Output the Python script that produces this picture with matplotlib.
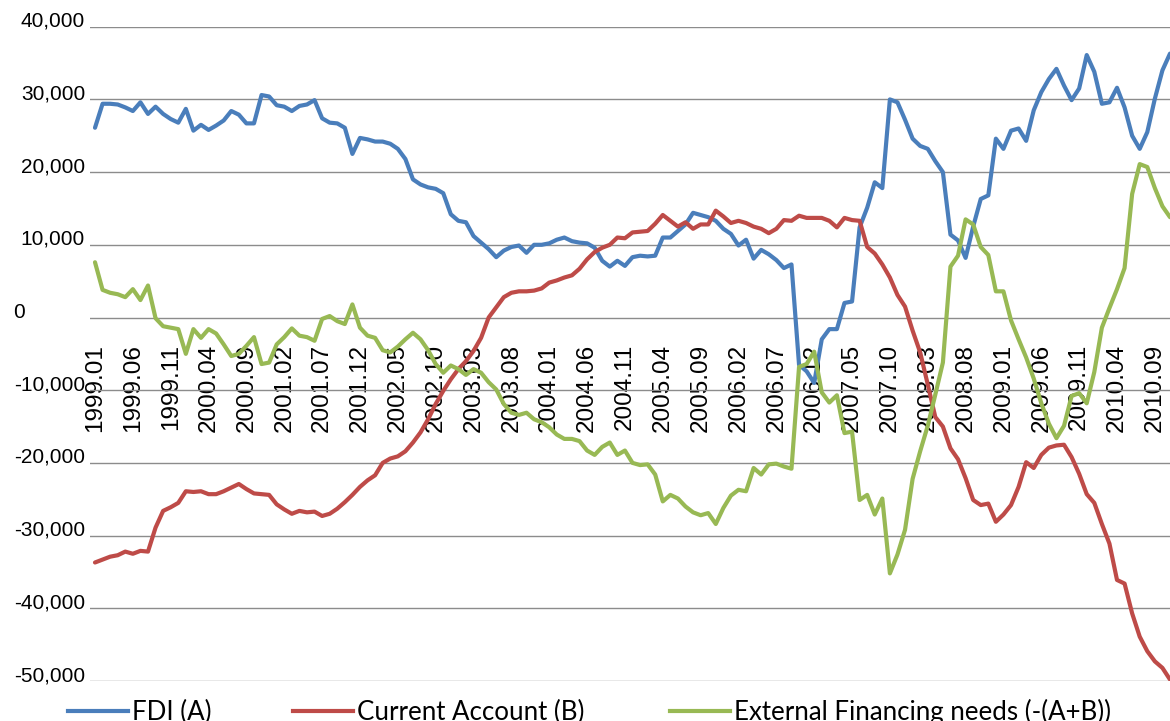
import matplotlib
matplotlib.use('Agg')
import matplotlib.pyplot as plt
from matplotlib.lines import Line2D
from matplotlib.ticker import FuncFormatter
import numpy as np

# ==================== 字体设置 ====================
plt.rcParams['font.family'] = ['Liberation Sans', 'DejaVu Sans']
plt.rcParams['axes.unicode_minus'] = False

# ==================== 数据 (1999.01 - 2010.11, monthly) ====================
months = [f'{y}.{m:02d}' for y in range(1999, 2011) for m in range(1, 13)][:143]

fdi = [26100, 29400, 29400, 29300, 28900, 28400, 29600, 28000, 29000, 28000,
       27300, 26800, 28700, 25700, 26500, 25800, 26400, 27100, 28400, 27900,
       26700, 26700, 30600, 30400, 29200, 29000, 28400, 29100, 29300, 29900,
       27400, 26800, 26700, 26100, 22500, 24700, 24500, 24200, 24200, 23900,
       23200, 21800, 19000, 18300, 17900, 17700, 17100, 14200, 13300, 13100,
       11200, 10300, 9400, 8300, 9200, 9700, 9900, 8900, 10000, 10000,
       10200, 10700, 11000, 10500, 10300, 10200, 9600, 7800, 7000, 7800,
       7100, 8300, 8500, 8400, 8500, 11000, 11000, 11900, 12800, 14400,
       14100, 13800, 13300, 12200, 11500, 9900, 10700, 8100, 9300, 8700,
       7900, 6800, 7300, -6500, -7400, -9000, -3000, -1600, -1600, 2000,
       2200, 12400, 15100, 18600, 17800, 30000, 29600, 27200, 24600, 23600,
       23200, 21500, 20000, 11400, 10600, 8200, 12500, 16300, 16800, 24600,
       23200, 25700, 26000, 24300, 28500, 31000, 32800, 34200, 31900, 29900,
       31500, 36100, 33800, 29400, 29600, 31600, 28900, 25000, 23200, 25500,
       30100, 34000, 36300]

current_account = [-33700, -33300, -32900, -32700, -32200, -32500, -32100, -32200, -28900, -26600,
                   -26100, -25500, -23900, -24000, -23900, -24300, -24300, -23900, -23400, -22900,
                   -23600, -24200, -24300, -24400, -25700, -26400, -27000, -26600, -26800, -26700,
                   -27300, -27000, -26300, -25400, -24400, -23300, -22400, -21700, -20000, -19400,
                   -19100, -18400, -17200, -15800, -14000, -11900, -10100, -8500, -7100, -6000,
                   -4600, -2800, 0, 1400, 2800, 3400, 3600, 3600, 3700, 4000,
                   4800, 5100, 5500, 5800, 6700, 8000, 9000, 9600, 10000, 11000,
                   10900, 11700, 11800, 11900, 12900, 14100, 13300, 12500, 13100, 12200,
                   12800, 12800, 14700, 13900, 13000, 13300, 13000, 12500, 12200, 11600,
                   12200, 13400, 13300, 14000, 13700, 13700, 13700, 13300, 12400, 13700,
                   13400, 13300, 9700, 8800, 7300, 5500, 3100, 1500, -1800, -4800,
                   -9200, -13700, -15000, -18000, -19500, -22100, -25100, -25800, -25600, -28100,
                   -27100, -25800, -23300, -19900, -20700, -18900, -17900, -17600, -17500, -19200,
                   -21500, -24300, -25500, -28400, -31100, -36100, -36600, -40700, -43900, -45900,
                   -47300, -48200, -49800]

ext_financing = [7600, 3800, 3400, 3200, 2800, 3900, 2400, 4400, -100, -1200,
                 -1400, -1600, -5000, -1600, -2800, -1600, -2200, -3700, -5300, -5000,
                 -3900, -2700, -6400, -6200, -3700, -2700, -1500, -2500, -2700, -3200,
                 -200, 200, -500, -900, 1800, -1400, -2500, -2800, -4500, -4800,
                 -4000, -3000, -2100, -3000, -4500, -6400, -7600, -6600, -7100, -7900,
                 -7100, -7600, -8900, -9900, -11900, -13100, -13400, -13100, -14000, -14400,
                 -15100, -16100, -16700, -16700, -17000, -18300, -18900, -17800, -17200, -18900,
                 -18300, -20000, -20300, -20200, -21600, -25300, -24400, -24900, -26000, -26800,
                 -27200, -26900, -28400, -26200, -24500, -23700, -23900, -20700, -21600, -20200,
                 -20100, -20500, -20800, -6800, -6400, -4700, -10300, -11700, -10700, -15900,
                 -15700, -25100, -24400, -27100, -24900, -35200, -32600, -29200, -22200, -18400,
                 -14900, -10600, -6200, 7000, 8500, 13500, 12800, 9700, 8600, 3600,
                 3600, -400, -3000, -5500, -8400, -11800, -14600, -16600, -14900, -10800,
                 -10400, -11800, -7500, -1400, 1300, 3900, 6800, 17000, 21100, 20700,
                 17800, 15300, 13800]

series_names = ['FDI (A)', 'Current Account (B)', 'External Financing needs (-(A+B))']
series_colors = ['#4A7EBB', '#BE4B48', '#98B954']

x = np.arange(len(months))

# ==================== 绘图 ====================
fig = plt.figure(figsize=(11.7, 7.21), dpi=100)
ax = fig.add_axes([90 / 1170, 40 / 721, 1080 / 1170, 654.3 / 721])

for vals, name, col in zip([fdi, current_account, ext_financing], series_names, series_colors):
    ax.plot(x, vals, color=col, lw=3, solid_joinstyle='round', solid_capstyle='round',
            label=name, zorder=3)

ax.set_xlim(-0.66, 142.0)
ax.set_ylim(-50000, 40000)
ax.set_yticks(range(-50000, 40001, 10000))
ax.yaxis.set_major_formatter(FuncFormatter(lambda v, p: f'{v:,.0f}'))
ax.grid(axis='y', color='#8c8c8c', lw=1)
ax.set_xticks(x[::5])
ax.tick_params(axis='x', length=0, labelbottom=False)
ax.tick_params(axis='y', length=0)

for s in ax.spines.values():
    s.set_visible(False)

# x 轴标签挂在 0 线下方（竖排）
for i in x[::5]:
    ax.annotate(months[i], xy=(i, 0), xycoords='data', xytext=(0, -19),
                textcoords='offset points', rotation=90, ha='center', va='top',
                fontsize=17.5, zorder=1, annotation_clip=False)

fig.canvas.draw()
for tick in ax.yaxis.get_major_ticks():
    tick.label1.set_fontsize(15)
    tick.label1.set_va('baseline')
    tick.set_pad(47 if tick.get_loc() == 0 else 3.6)

# ==================== 图例 ====================
legend_x = [68, 293, 670]
for name, col, lx in zip(series_names, series_colors, legend_x):
    fig.legend(handles=[Line2D([], [], color=col, lw=3)], labels=[name],
               loc='center left', bbox_to_anchor=(lx / 1170, 9 / 721),
               frameon=False, borderpad=0, borderaxespad=0,
               handlelength=2.33, handletextpad=0.155,
               prop={'family': 'Lato', 'size': 18.6})

fig.savefig('out.png', dpi=100)
plt.close(fig)
